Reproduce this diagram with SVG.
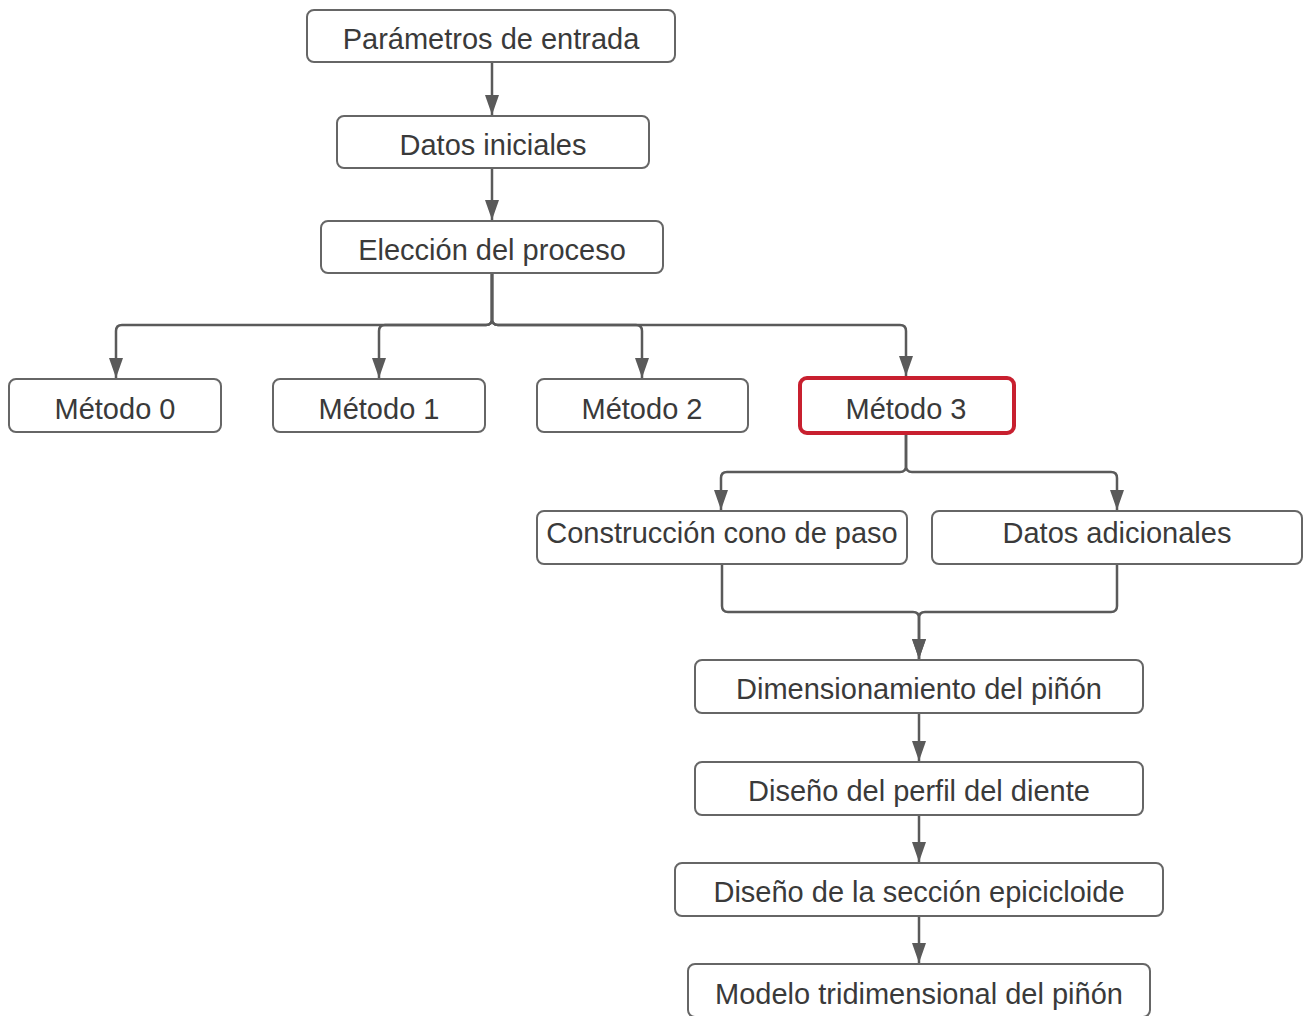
<svg xmlns="http://www.w3.org/2000/svg" width="1304" height="1016" viewBox="0 0 1304 1016">
<style>
.box{fill:#fff;stroke:#666;stroke-width:2}
.red{fill:#fff;stroke:#c8202f;stroke-width:4}
.t{font-family:"Liberation Sans",Arial,sans-serif;font-size:29px;fill:#3a3a3a;text-anchor:middle}
.c{fill:none;stroke:#5a5a5a;stroke-width:2.5}
</style>
<defs>
<marker id="ah" viewBox="0 0 20 14" refX="20" refY="7" markerWidth="20" markerHeight="14" markerUnits="userSpaceOnUse" orient="auto">
<path d="M0 0 L20 7 L0 14 Z" fill="#5a5a5a"/>
</marker>
</defs>
<rect width="1304" height="1016" fill="#fff"/>
<g id="connectors">
<path class="c" d="M492 62 V115" marker-end="url(#ah)"/>
<path class="c" d="M492 168 V220" marker-end="url(#ah)"/>
<path class="c" d="M492 273 V319 Q492 325 486 325 H122 Q116 325 116 331 V378" marker-end="url(#ah)"/>
<path class="c" d="M492 273 V319 Q492 325 486 325 H385 Q379 325 379 331 V378" marker-end="url(#ah)"/>
<path class="c" d="M492 273 V319 Q492 325 498 325 H636 Q642 325 642 331 V378" marker-end="url(#ah)"/>
<path class="c" d="M492 273 V319 Q492 325 498 325 H900 Q906 325 906 331 V376" marker-end="url(#ah)"/>
<path class="c" d="M906 434 V466 Q906 472 900 472 H727 Q721 472 721 478 V510" marker-end="url(#ah)"/>
<path class="c" d="M906 434 V466 Q906 472 912 472 H1111 Q1117 472 1117 478 V510" marker-end="url(#ah)"/>
<path class="c" d="M722 564 V606 Q722 612 728 612 H913 Q919 612 919 618 V659" marker-end="url(#ah)"/>
<path class="c" d="M1117 564 V606 Q1117 612 1111 612 H925 Q919 612 919 618 V659" marker-end="url(#ah)"/>
<path class="c" d="M919 713 V761" marker-end="url(#ah)"/>
<path class="c" d="M919 815 V862" marker-end="url(#ah)"/>
<path class="c" d="M919 916 V963" marker-end="url(#ah)"/>
</g>
<g id="n1"><rect class="box" x="307" y="10" width="368" height="52" rx="7"/><text class="t" x="491" y="49">Parámetros de entrada</text></g>
<g id="n2"><rect class="box" x="337" y="116" width="312" height="52" rx="7"/><text class="t" x="493" y="155">Datos iniciales</text></g>
<g id="n3"><rect class="box" x="321" y="221" width="342" height="52" rx="7"/><text class="t" x="492" y="260">Elección del proceso</text></g>
<g id="m0"><rect class="box" x="9" y="379" width="212" height="53" rx="7"/><text class="t" x="115" y="419">Método 0</text></g>
<g id="m1"><rect class="box" x="273" y="379" width="212" height="53" rx="7"/><text class="t" x="379" y="419">Método 1</text></g>
<g id="m2"><rect class="box" x="537" y="379" width="211" height="53" rx="7"/><text class="t" x="642" y="419">Método 2</text></g>
<g id="m3"><rect class="red" x="800" y="378" width="214" height="55" rx="7"/><text class="t" x="906" y="419">Método 3</text></g>
<g id="n4"><rect class="box" x="537" y="511" width="370" height="53" rx="7"/><text class="t" x="722" y="543">Construcción cono de paso</text></g>
<g id="n5"><rect class="box" x="932" y="511" width="370" height="53" rx="7"/><text class="t" x="1117" y="543">Datos adicionales</text></g>
<g id="n6"><rect class="box" x="695" y="660" width="448" height="53" rx="7"/><text class="t" x="919" y="699">Dimensionamiento del piñón</text></g>
<g id="n7"><rect class="box" x="695" y="762" width="448" height="53" rx="7"/><text class="t" x="919" y="801">Diseño del perfil del diente</text></g>
<g id="n8"><rect class="box" x="675" y="863" width="488" height="53" rx="7"/><text class="t" x="919" y="902">Diseño de la sección epicicloide</text></g>
<g id="n9"><rect class="box" x="688" y="964" width="462" height="53" rx="7"/><text class="t" x="919" y="1004">Modelo tridimensional del piñón</text></g>
</svg>
